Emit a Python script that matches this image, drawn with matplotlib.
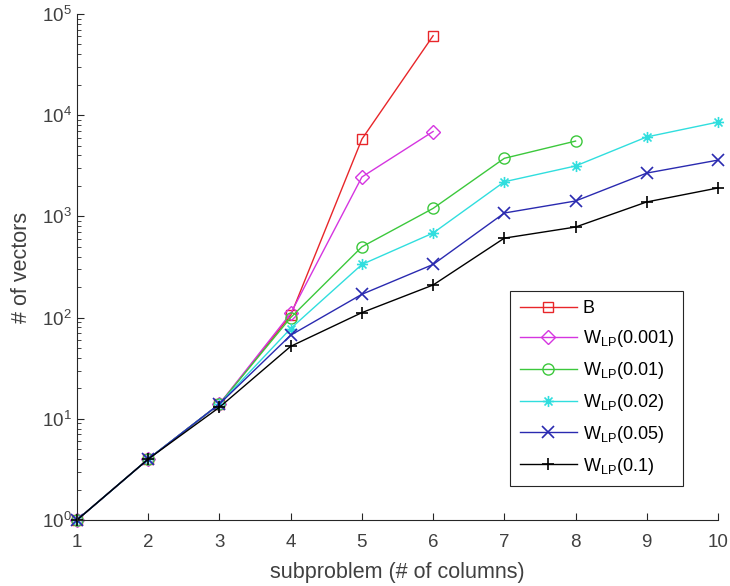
import numpy as np
import matplotlib
matplotlib.use("Agg")
import matplotlib.pyplot as plt
from matplotlib.path import Path

plt.rcParams['font.family'] = ['Liberation Sans', 'DejaVu Sans']
plt.rcParams['mathtext.fontset'] = 'custom'
plt.rcParams['mathtext.rm'] = 'Liberation Sans'
plt.rcParams['mathtext.it'] = 'Liberation Sans:italic'

# values
x_b = [1, 2, 3, 4, 5, 6]
b = [1, 4, 14, 105, 5800, 61000]
x_001 = [1, 2, 3, 4, 5, 6]
w_001 = [1, 4, 14, 110, 2450, 6900]
x_01 = [1, 2, 3, 4, 5, 6, 7, 8]
w_01 = [1, 4, 14, 100, 500, 1200, 3750, 5550]
x_rest = [1, 2, 3, 4, 5, 6, 7, 8, 9, 10]
w_02 = [1, 4, 14, 78, 335, 685, 2200, 3150, 6100, 8550]
w_05 = [1, 4, 14, 67, 170, 335, 1080, 1420, 2680, 3600]
w_1 = [1, 4, 13, 52, 112, 210, 610, 785, 1390, 1910]

labels = ['B', r'W$_{\mathrm{LP}}$(0.001)', r'W$_{\mathrm{LP}}$(0.01)',
          r'W$_{\mathrm{LP}}$(0.02)', r'W$_{\mathrm{LP}}$(0.05)', r'W$_{\mathrm{LP}}$(0.1)']

# matlab style asterisk: plus and cross together
d = 0.72
star = Path([(-1, 0), (1, 0), (0, -1), (0, 1), (-d, -d), (d, d), (-d, d), (d, -d)],
            [Path.MOVETO, Path.LINETO] * 4)

fig = plt.figure(figsize=(7.3, 5.86), dpi=100)
ax = fig.add_axes([77 / 730, 66 / 586, 641 / 730, 506 / 586])

kw = dict(lw=1, clip_on=False)
ax.plot(x_b, b, '-s', color='#e8262a', mfc='none', ms=7, label=labels[0], **kw)
ax.plot(x_001, w_001, '-D', color='#d535e0', mfc='none', ms=7, label=labels[1], **kw)
ax.plot(x_01, w_01, '-o', color='#3cc83c', mfc='none', ms=8, label=labels[2], **kw)
ax.plot(x_rest, w_02, '-', marker=star, color='#30dede', mfc='none', ms=8, mew=1.2, label=labels[3], **kw)
ax.plot(x_rest, w_05, '-x', color='#2a2ab0', ms=8, mew=1.2, label=labels[4], **kw)
ax.plot(x_rest, w_1, '-+', color='black', ms=9, mew=1.2, label=labels[5], **kw)

ax.set_yscale('log')
ax.set_xlim(1, 10)
ax.set_ylim(1, 1e5)
ax.set_xticks(range(1, 11))
ax.spines['top'].set_visible(False)
ax.spines['right'].set_visible(False)
for s in ['left', 'bottom']:
    ax.spines[s].set_color('#262626')
ax.tick_params(which='both', direction='in', colors='#262626', labelcolor='#404040', labelsize=13.5)
ax.tick_params(which='major', length=5)
ax.tick_params(which='minor', length=3)
ax.tick_params(axis='x', pad=10)
ax.tick_params(axis='y', pad=4)

ax.set_xlabel('subproblem (# of columns)', fontsize=15.5, color='#404040', labelpad=8)
ax.set_ylabel('# of vectors', fontsize=15.5, color='#404040', labelpad=7)

leg = ax.legend(loc='lower right', bbox_to_anchor=(0.945, 0.068), fontsize=13,
                handlelength=3.2, handletextpad=0.3, labelspacing=0.6, fancybox=False,
                framealpha=1, edgecolor='#262626', borderpad=0.5, borderaxespad=0)
leg.get_frame().set_linewidth(0.8)

fig.savefig('out.png', dpi=100)
